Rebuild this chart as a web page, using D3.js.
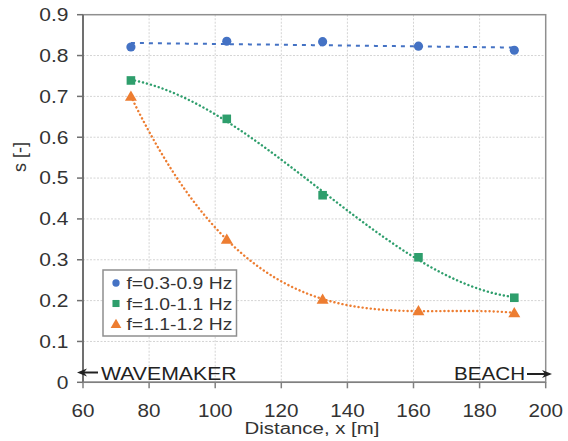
<!DOCTYPE html>
<html>
<head>
<meta charset="utf-8">
<script src="https://cdn.jsdelivr.net/npm/d3@7"></script>
<style>
  html, body { margin: 0; padding: 0; background: #fff; }
  svg { display: block; }
  text { font-family: "Liberation Sans", Arial, sans-serif; fill: #333; }
</style>
</head>
<body>
<svg id="chart" width="568" height="441"></svg>
<script>
// Measurement stations along the flume [m]
const distances = [74.5, 103.5, 132.5, 161.5, 190.5];
// Values of s [-] per frequency band
const sLow  = [0.821, 0.835, 0.834, 0.823, 0.813];   // f=0.3-0.9 Hz
const sMid  = [0.739, 0.645, 0.458, 0.306, 0.207];   // f=1.0-1.1 Hz
const sHigh = [0.700, 0.350, 0.203, 0.175, 0.170];   // f=1.1-1.2 Hz
const seriesNames = ["f=0.3-0.9 Hz", "f=1.0-1.1 Hz", "f=1.1-1.2 Hz"];
const xTicks = [60, 80, 100, 120, 140, 160, 180, 200];
const yTicks = [0, 0.1, 0.2, 0.3, 0.4, 0.5, 0.6, 0.7, 0.8, 0.9];
const xTitle = "Distance, x [m]";
const yTitle = "s [-]";

const colors = ["#4472C4", "#2E9E6C", "#ED7D31"];
const SX = 1.18; // horizontal glyph stretch

const svg = d3.select("#chart");
const m = { left: 83, right: 545.7, top: 14.7, bottom: 382.3 };
const x = d3.scaleLinear().domain([60, 200]).range([m.left, m.right]);
const y = d3.scaleLinear().domain([0, 0.9]).range([m.bottom, m.top]);

// Least-squares polynomial fit (trend lines)
function polyFit(xs, ys, deg) {
  const n = deg + 1;
  const xm = d3.mean(xs), xsd = 30;
  const A = Array.from({length: n}, () => new Array(n + 1).fill(0));
  xs.forEach((xv, k) => {
    const t = (xv - xm) / xsd;
    for (let i = 0; i < n; i++) {
      for (let j = 0; j < n; j++) A[i][j] += Math.pow(t, i + j);
      A[i][n] += ys[k] * Math.pow(t, i);
    }
  });
  for (let i = 0; i < n; i++) {
    let p = i;
    for (let r = i + 1; r < n; r++) if (Math.abs(A[r][i]) > Math.abs(A[p][i])) p = r;
    [A[i], A[p]] = [A[p], A[i]];
    for (let r = 0; r < n; r++) {
      if (r === i) continue;
      const f = A[r][i] / A[i][i];
      for (let c = i; c <= n; c++) A[r][c] -= f * A[i][c];
    }
  }
  const coef = A.map((row, i) => row[n] / row[i]);
  return xv => {
    const t = (xv - xm) / xsd;
    return coef.reduce((s, c, i) => s + c * Math.pow(t, i), 0);
  };
}

function stretchedText(g, px, py, str, anchor, size) {
  return g.append("text")
    .attr("transform", `translate(${px},${py}) scale(${SX},1)`)
    .attr("text-anchor", anchor)
    .style("font-size", size + "px")
    .text(str);
}

// Grid
const grid = svg.append("g");
grid.selectAll(".gx").data(xTicks.slice(1, -1)).join("line")
  .attr("x1", d => x(d)).attr("x2", d => x(d))
  .attr("y1", m.top).attr("y2", m.bottom)
  .attr("stroke", "#d4d4d4").attr("stroke-width", 1).attr("stroke-dasharray", "2,1.5");
grid.selectAll(".gy").data(yTicks.slice(1, -1)).join("line")
  .attr("x1", m.left).attr("x2", m.right)
  .attr("y1", d => y(d)).attr("y2", d => y(d))
  .attr("stroke", "#d4d4d4").attr("stroke-width", 1).attr("stroke-dasharray", "2,1.5");

// Frame
svg.append("rect")
  .attr("x", m.left).attr("y", m.top)
  .attr("width", m.right - m.left).attr("height", m.bottom - m.top)
  .attr("fill", "none").attr("stroke", "#8f8f8f").attr("stroke-width", 1.5);
svg.append("line").attr("x1", m.left).attr("x2", m.left).attr("y1", m.top).attr("y2", m.bottom)
  .attr("stroke", "#707070").attr("stroke-width", 2);
svg.append("line").attr("x1", m.left).attr("x2", m.right).attr("y1", m.bottom).attr("y2", m.bottom)
  .attr("stroke", "#808080").attr("stroke-width", 1.5);

// Tick marks
svg.selectAll(".ty").data(yTicks).join("line")
  .attr("x1", m.left - 6).attr("x2", m.left)
  .attr("y1", d => y(d)).attr("y2", d => y(d))
  .attr("stroke", "#707070").attr("stroke-width", 1.5);
svg.selectAll(".tx").data(xTicks).join("line")
  .attr("x1", d => x(d)).attr("x2", d => x(d))
  .attr("y1", m.bottom).attr("y2", m.bottom + 6)
  .attr("stroke", "#808080").attr("stroke-width", 1.5);

// Tick labels
const labels = svg.append("g");
yTicks.forEach(d => stretchedText(labels, 68.5, y(d) + 6.3, d === 0 ? "0" : d.toFixed(1), "end", 17.8));
xTicks.forEach(d => stretchedText(labels, x(d), 416.5, String(d), "middle", 17.5));

// Axis titles
stretchedText(svg, 312, 434, xTitle, "middle", 17.3);
svg.append("text")
  .attr("transform", "translate(26,157) rotate(-90)")
  .attr("text-anchor", "middle")
  .style("font-size", "18px")
  .text(yTitle);

// Trend lines
const trends = [
  { ys: sLow,  deg: 1, dash: "4,5",   cap: "butt" },
  { ys: sMid,  deg: 3, dash: "0.1,4", cap: "round" },
  { ys: sHigh, deg: 3, dash: "0.1,4", cap: "round" }
];
const line = d3.line().x(d => x(d[0])).y(d => y(d[1]));
const xs = d3.range(distances[0], distances[distances.length - 1] + 0.01, 0.5);
trends.forEach((t, i) => {
  const f = polyFit(distances, t.ys, t.deg);
  svg.append("path")
    .attr("d", line(xs.map(v => [v, f(v)])))
    .attr("fill", "none")
    .attr("stroke", colors[i])
    .attr("stroke-width", i === 0 ? 2 : 2.4)
    .attr("stroke-dasharray", t.dash)
    .attr("stroke-linecap", t.cap);
});

// Markers
const symbols = [d3.symbolCircle, d3.symbolSquare, d3.symbolTriangle];
const sizes = [66, 74, 62];
[sLow, sMid, sHigh].forEach((vals, i) => {
  svg.append("g").selectAll("path").data(vals).join("path")
    .attr("transform", (d, k) => `translate(${x(distances[k])},${y(d) + (i === 2 ? 1 : 0)})`)
    .attr("d", d3.symbol(symbols[i], sizes[i]))
    .attr("fill", colors[i]);
});

// Legend
const lg = svg.append("g");
lg.append("rect").attr("x", 103).attr("y", 270).attr("width", 133.5).attr("height", 66)
  .attr("fill", "#fff").attr("stroke", "#8f8f8f").attr("stroke-width", 1.5);
seriesNames.forEach((name, i) => {
  const cy = 283 + i * 20.5;
  lg.append("path")
    .attr("transform", `translate(116,${cy + (i === 2 ? 1 : 0)})`)
    .attr("d", d3.symbol(symbols[i], i === 0 ? 42 : 50))
    .attr("fill", colors[i]);
  stretchedText(lg, 126.5, cy + 6, name, "start", 16.4);
});

// Direction markers
const arrowColor = "#222";
function arrow(x1, x2, yy) {
  const dir = Math.sign(x2 - x1);
  svg.append("line").attr("x1", x1).attr("x2", x2 - dir * 6).attr("y1", yy).attr("y2", yy)
    .attr("stroke", arrowColor).attr("stroke-width", 2);
  svg.append("path")
    .attr("d", `M${x2},${yy} L${x2 - dir * 10},${yy - 4} L${x2 - dir * 7},${yy} L${x2 - dir * 10},${yy + 4} Z`)
    .attr("fill", arrowColor);
}
arrow(98, 77, 372.5);
stretchedText(svg, 101, 379.5, "WAVEMAKER", "start", 18).style("fill", "#222");
arrow(527, 552, 374);
stretchedText(svg, 454, 380, "BEACH", "start", 17.5).style("fill", "#222");
</script>
</body>
</html>
